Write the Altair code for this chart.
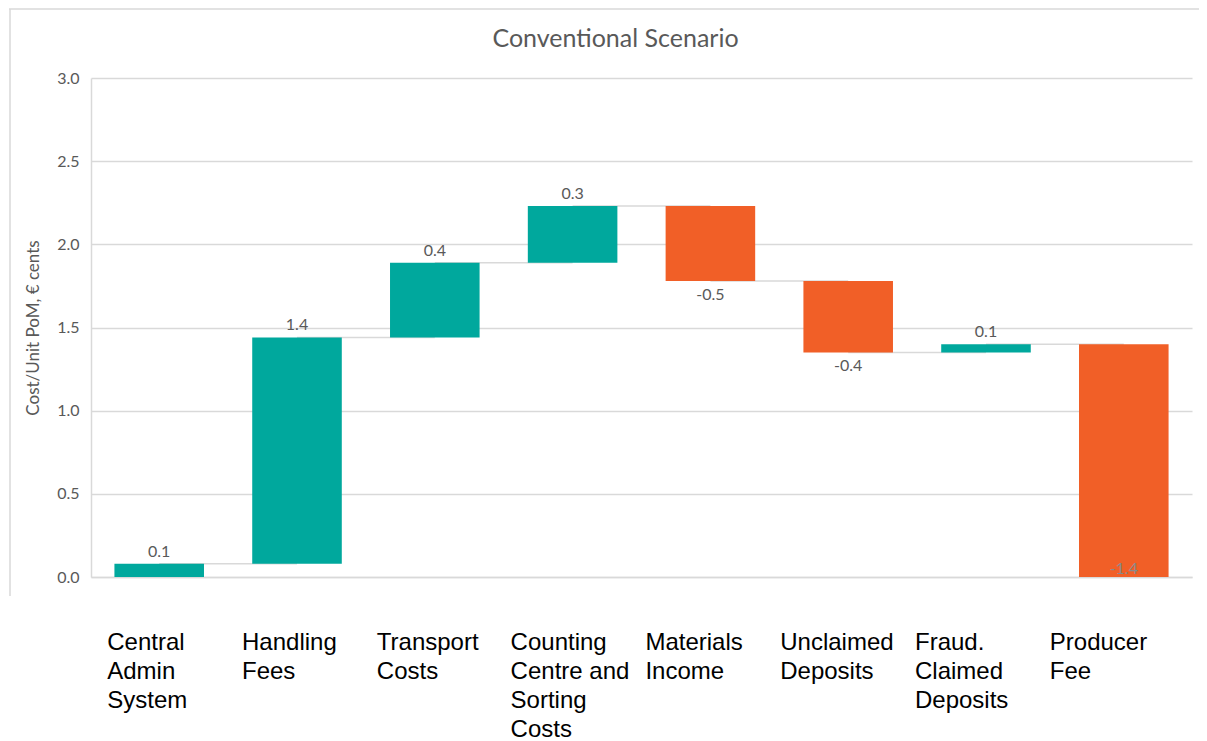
import altair as alt
import pandas as pd

categories = [
    "Central\nAdmin\nSystem",
    "Handling\nFees",
    "Transport\nCosts",
    "Counting\nCentre and\nSorting\nCosts",
    "Materials\nIncome",
    "Unclaimed\nDeposits",
    "Fraud.\nClaimed\nDeposits",
    "Producer\nFee",
]
values = [0.08, 1.36, 0.45, 0.34, -0.45, -0.43, 0.05, -1.40]
value_labels = ["0.1", "1.4", "0.4", "0.3", "-0.5", "-0.4", "0.1", "-1.4"]

TEAL = "#00A89D"
ORANGE = "#F15F27"
GRID = "#D9D9D9"
GREY_TXT = "#595959"

rows = []
cum = 0.0
for i, (c, v, lab) in enumerate(zip(categories, values, value_labels)):
    start = cum
    end = cum + v
    cum = end
    if v > 0:
        pos = "above"
    elif end > 0.05:
        pos = "below"
    else:
        pos = "inside"
    rows.append({
        "cat": c,
        "start": round(start, 4),
        "end": round(end, 4),
        "sign": "pos" if v > 0 else "neg",
        "label": lab,
        "pos": pos,
        "next": categories[i + 1] if i + 1 < len(categories) else None,
    })
df = pd.DataFrame(rows)

# category labels sit in slightly narrower columns than the bar bands
label_offset = {
    "condition": [
        {"test": "datum.index < 0.07", "value": -52},
        {"test": "datum.index < 0.21", "value": -55},
        {"test": "datum.index < 0.35", "value": -58},
        {"test": "datum.index < 0.5", "value": -62},
        {"test": "datum.index < 0.64", "value": -65},
        {"test": "datum.index < 0.78", "value": -68},
        {"test": "datum.index < 0.92", "value": -71},
    ],
    "value": -74,
}

x_enc = alt.X(
    "cat:N",
    sort=categories,
    scale=alt.Scale(paddingInner=0.35, paddingOuter=0.17),
    axis=alt.Axis(
        title=None,
        labelAngle=0,
        labelAlign="left",
        labelBaseline="top",
        labelOffset=label_offset,
        labelPadding=53,
        labelFontSize=24,
        labelLineHeight=29,
        labelFont="Liberation Sans",
        labelColor="#000000",
        labelExpr="split(datum.label, '\\n')",
        labelLimit=0,
        labelOverlap=False,
        ticks=False,
        domainColor=GRID,
        domainWidth=1.5,
    ),
)

y_scale = alt.Scale(domain=[0, 3.0], nice=False)
y_axis = alt.Axis(
    title="Cost/Unit PoM, € cents",
    titleFont="Lato",
    titleFontSize=17,
    titleFontWeight="normal",
    titleColor=GREY_TXT,
    titlePadding=14,
    format=".1f",
    values=[0, 0.5, 1.0, 1.5, 2.0, 2.5, 3.0],
    labelFont="Lato",
    labelFontSize=16,
    labelColor=GREY_TXT,
    labelPadding=12,
    ticks=False,
    grid=True,
    gridColor=GRID,
    gridWidth=1.5,
    domainColor=GRID,
    domainWidth=1.5,
)

base = alt.Chart(df)
last = base.transform_filter("datum.next == null")

frame_top = last.mark_rule(color=GRID, strokeWidth=1.5).encode(
    x=alt.value(-82), x2=alt.value(1120), y=alt.value(-69)
)
frame_left = last.mark_rule(color=GRID, strokeWidth=1.5).encode(
    x=alt.value(-81), y=alt.value(-69), y2=alt.value(518)
)

connectors = base.transform_filter("datum.next != null").mark_rule(
    color=GRID, strokeWidth=1.5
).encode(
    x=alt.X("cat:N", sort=categories),
    x2="next:N",
    y=alt.Y("end:Q", scale=y_scale),
)

bars = base.mark_bar().encode(
    x=x_enc,
    y=alt.Y("start:Q", scale=y_scale, axis=y_axis),
    y2="end:Q",
    color=alt.Color(
        "sign:N",
        scale=alt.Scale(domain=["pos", "neg"], range=[TEAL, ORANGE]),
        legend=None,
    ),
)

lab_above = base.transform_filter("datum.pos == 'above'").mark_text(
    baseline="bottom", dy=-4, font="Lato", fontSize=16, color=GREY_TXT
).encode(x=alt.X("cat:N", sort=categories), y=alt.Y("end:Q", scale=y_scale), text="label:N")

lab_below = base.transform_filter("datum.pos == 'below'").mark_text(
    baseline="top", dy=6, font="Lato", fontSize=16, color=GREY_TXT
).encode(x=alt.X("cat:N", sort=categories), y=alt.Y("end:Q", scale=y_scale), text="label:N")

lab_inside = base.transform_filter("datum.pos == 'inside'").mark_text(
    baseline="bottom", dy=0, font="Lato", fontSize=16, color="#8A8A8A"
).encode(x=alt.X("cat:N", sort=categories), y=alt.Y("end:Q", scale=y_scale), text="label:N")

chart = alt.layer(
    frame_top, frame_left, connectors, bars, lab_above, lab_below, lab_inside
).properties(
    width=1101,
    height=499,
    autosize=alt.AutoSizeParams(type="none"),
    padding={"left": 83, "top": 70, "right": 7, "bottom": 170},
    title=alt.Title(
        "Conventional Scenario",
        font="Lato",
        fontSize=25,
        fontWeight="normal",
        color=GREY_TXT,
        offset=0,
        dy=56,
        dx=-26,
        baseline="middle",
        anchor="middle",
        frame="group",
    ),
).configure_view(strokeWidth=0)

chart.save("out.html", embed_options={"renderer": "svg", "actions": False})
